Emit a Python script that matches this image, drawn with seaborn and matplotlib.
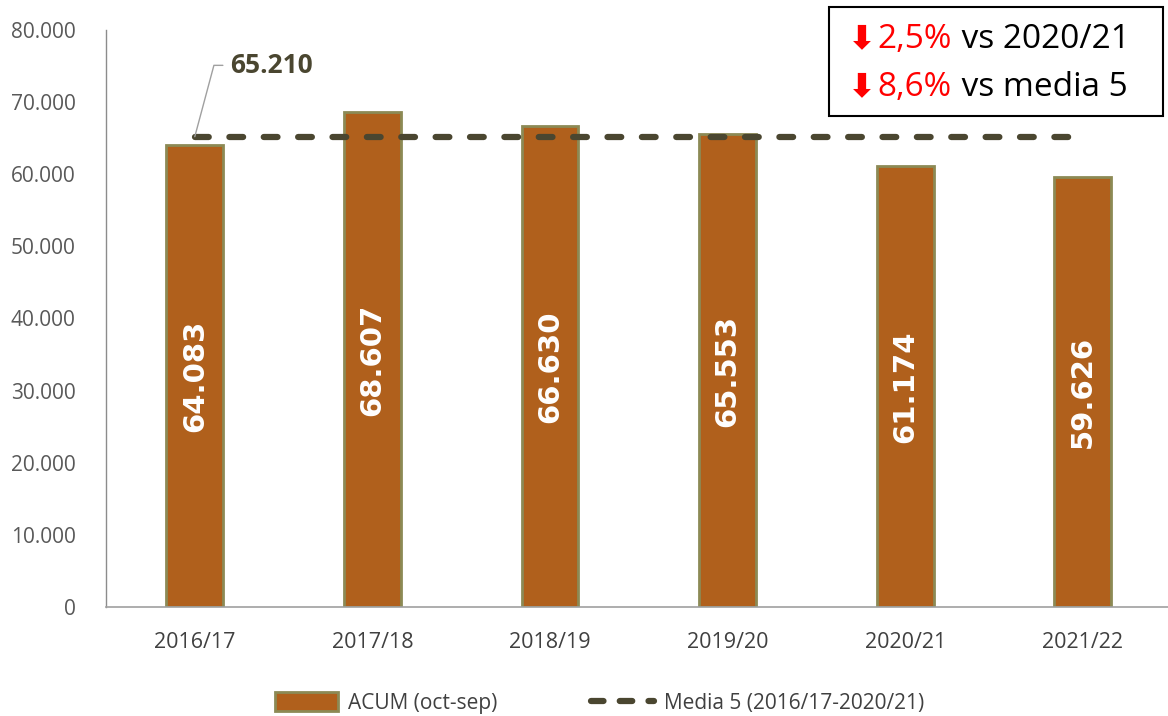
import matplotlib
matplotlib.use('Agg')
import matplotlib.pyplot as plt
import seaborn as sns
import pandas as pd
from matplotlib.ticker import FuncFormatter
from matplotlib.offsetbox import TextArea, HPacker, VPacker, AnchoredOffsetbox
from matplotlib.patches import Patch, Rectangle
from matplotlib.lines import Line2D

campanas = ['2016/17', '2017/18', '2018/19', '2019/20', '2020/21', '2021/22']
acum = [64083, 68607, 66630, 65553, 61174, 59626]
media5 = 65210
var_anual = '2,5%'
var_media = '8,6%'

df = pd.DataFrame({'campana': campanas, 'acum': acum})

sns.set_style('white')
plt.rcParams['font.family'] = ['Open Sans', 'DejaVu Sans']

color_barra = '#B0601C'
color_borde = '#8C8A55'
color_media = '#4A4630'

fig = plt.figure(figsize=(11.68, 7.16), dpi=100)
ax = fig.add_axes([106/1168, 1 - 607/716, 1 - 106/1168 + 0.003, (607 - 30)/716])

sns.barplot(data=df, x='campana', y='acum', color=color_barra, width=0.32,
            edgecolor=color_borde, linewidth=2, saturation=1, ax=ax)

# linea media 5 años
ax.plot([0, len(campanas) - 1], [media5, media5], color=color_media, lw=4.5,
        dashes=(2.2, 3.3), solid_capstyle='round', dash_capstyle='round', zorder=3)

# valores dentro de las barras
for i, v in enumerate(acum):
    ax.text(i, v / 2, f'{v:,}'.replace(',', '.'), rotation=90, ha='center', va='center',
            color='white', fontsize=21, fontweight='bold', family='DejaVu Sans')

# etiqueta de la media
ax.annotate(f'{media5:,}'.replace(',', '.'), xy=(0, media5), xytext=(0.2, 75100),
            fontsize=19, fontweight='bold', color=color_media, va='center', ha='left',
            arrowprops=dict(arrowstyle='-', color='#A0A0A0', lw=1,
                            connectionstyle='angle,angleA=0,angleB=75,rad=0',
                            shrinkA=3, shrinkB=0))

ax.set_ylim(0, 80000)
ax.set_xlim(-0.5, 5.5)
ax.set_yticks(range(0, 80001, 10000))
ax.yaxis.set_major_formatter(FuncFormatter(lambda v, p: f'{int(v):,}'.replace(',', '.')))
ax.tick_params(axis='y', labelsize=15, labelcolor='#595959', length=0, pad=22)
ax.tick_params(axis='x', labelsize=15.5, labelcolor='#404040', length=0, pad=18)
ax.set_xlabel('')
ax.set_ylabel('')

for s in ['top', 'right']:
    ax.spines[s].set_visible(False)
ax.spines['left'].set_color('#8C8C8C')
ax.spines['bottom'].set_color('#A0A0A0')
ax.spines['left'].set_linewidth(1)
ax.spines['bottom'].set_linewidth(1.2)

# cuadro de variaciones
def fila(valor, resto):
    return HPacker(children=[
        TextArea('⬇', textprops=dict(color='#FF0000', fontsize=24, family='DejaVu Sans',
                                     fontweight='bold')),
        TextArea(valor, textprops=dict(color='#FF0000', fontsize=24)),
        TextArea(resto, textprops=dict(color='black', fontsize=24)),
    ], align='baseline', pad=0, sep=1)

caja = VPacker(children=[fila(var_anual, ' vs 2020/21'), fila(var_media, ' vs media 5')],
               align='left', pad=0, sep=10)
anch = AnchoredOffsetbox(loc='upper left', child=caja, pad=0, borderpad=0,
                         frameon=False, bbox_to_anchor=(848/1168, 1 - 22/716),
                         bbox_transform=fig.transFigure)
anch.set_zorder(6)
fig.add_artist(anch)
fig.add_artist(Rectangle((829/1168, 1 - 116/716), (1163 - 829)/1168, (116 - 7)/716,
                         transform=fig.transFigure, facecolor='white', edgecolor='black',
                         lw=1.5, zorder=5))

handles = [Patch(facecolor=color_barra, edgecolor=color_borde, linewidth=2),
           Line2D([0], [0], color=color_media, lw=4.5, dashes=(2.0, 2.6),
                  dash_capstyle='round')]
fig.legend(handles, ['ACUM (oct-sep)', 'Media 5 (2016/17-2020/21)'], loc='center',
           bbox_to_anchor=(600/1168, 1 - 703/716), ncol=2, frameon=False,
           fontsize=15, labelcolor='#404040', handlelength=3.0, handleheight=1.0,
           columnspacing=4.5, handletextpad=0.5)

fig.savefig('out.png', dpi=100)
